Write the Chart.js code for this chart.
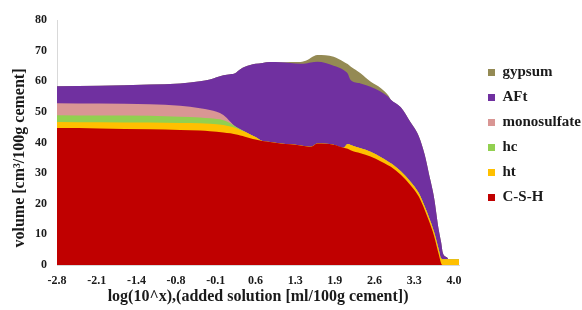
<!DOCTYPE html>
<html>
<head>
<meta charset="utf-8">
<script src="https://cdn.jsdelivr.net/npm/chart.js@4.4.1/dist/chart.umd.min.js"></script>
<style>
html, body { margin: 0; padding: 0; background: #fff; }
</style>
</head>
<body>
<canvas id="chartVolume" width="582" height="310"></canvas>
<script>
// x = log(10^x) of added solution
var xValues = [-2.80, -2.07, -1.21, -0.69, -0.35, -0.18, 0.05, 0.17, 0.25, 0.34, 0.42, 0.51, 0.60, 0.72,
               0.85, 1.03, 1.20, 1.37, 1.49, 1.55, 1.66, 1.94, 2.11, 2.18, 2.23, 2.40, 2.57, 2.75,
               2.87, 2.92, 3.09, 3.26, 3.40, 3.50, 3.57, 3.66, 3.74, 3.78, 3.81, 3.88, 3.91, 4.09];

// volumes (cm3/100g cement) of each phase
var csh = [44.7, 44.6, 44.3, 44.1, 43.9, 43.7, 43.3, 43.0, 42.7, 42.3, 41.9, 41.4, 41.0, 40.5,
           40.2, 39.7, 39.4, 39.0, 38.7, 38.6, 39.7, 39.3, 38.3, 38.0, 37.5, 36.5, 35.4, 33.8,
           32.6, 32.1, 29.5, 26.0, 22.3, 18.0, 14.5, 9.5, 3.5, 0.6, 0, 0, 0, 0];
var ht = [2.0, 2.0, 2.2, 2.3, 2.4, 2.4, 2.4, 2.2, 2.1, 1.8, 1.6, 1.2, 0.8, 0,
          0, 0, 0, 0, 0, 0, 0, 0, 0, 1.5, 1.7, 1.6, 1.6, 1.4,
          1.2, 1.1, 1.1, 1.1, 1.1, 1.1, 1.2, 1.3, 1.6, 1.6, 1.9, 1.9, 1.9, 1.9];
var hc = [2.2, 2.2, 2.2, 2.0, 1.9, 1.8, 1.6, 1.1, 0.5, 0.2, 0, 0, 0, 0,
          0, 0, 0, 0, 0, 0, 0, 0, 0, 0, 0, 0, 0, 0,
          0, 0, 0, 0, 0, 0, 0, 0, 0, 0, 0, 0, 0, 0];
var monosulfate = [3.9, 3.9, 3.8, 3.6, 3.0, 2.7, 1.7, 0.5, 0, 0, 0, 0, 0, 0,
                   0, 0, 0, 0, 0, 0, 0, 0, 0, 0, 0, 0, 0, 0,
                   0, 0, 0, 0, 0, 0, 0, 0, 0, 0, 0, 0, 0, 0];
var aft = [5.6, 5.8, 6.4, 7.3, 8.8, 10.0, 13.0, 15.5, 17.3, 19.6, 21.2, 22.7, 23.9, 25.5,
           26.1, 26.5, 26.6, 26.7, 27.2, 27.5, 26.7, 25.8, 25.4, 23.0, 21.2, 21.2, 21.2, 21.4,
           21.2, 20.8, 20.9, 19.4, 18.6, 16.9, 14.3, 11.2, 6.4, 5.3, 2.1, 0.6, 0, 0];
var gypsum = [0, 0, 0, 0, 0, 0, 0, 0, 0, 0, 0, 0, 0, 0,
              0, 0, 0.3, 0.6, 1.0, 1.6, 2.2, 2.9, 2.7, 3.1, 4.4, 3.3, 1.7, 1.1,
              0.5, 0, 0, 0, 0, 0, 0, 0, 0, 0, 0, 0, 0, 0];

var xTickValues = [-2.8, -2.12, -1.44, -0.76, -0.08, 0.6, 1.28, 1.96, 2.64, 3.32, 4.0];
var xTickLabels = ['-2.8', '-2.1', '-1.4', '-0.8', '-0.1', '0.6', '1.3', '1.9', '2.6', '3.3', '4.0'];

var serie = [
    { label: 'C-S-H', data: csh, color: '#C00000' },
    { label: 'ht', data: ht, color: '#FFC000' },
    { label: 'hc', data: hc, color: '#92D050' },
    { label: 'monosulfate', data: monosulfate, color: '#D99694' },
    { label: 'AFt', data: aft, color: '#7030A0' },
    { label: 'gypsum', data: gypsum, color: '#948A54' }
];

var police = 'Liberation Serif';

var datasets = serie.map(function(s) {
    return {
        label: s.label,
        data: s.data.map(function(v, i) { return { x: xValues[i], y: v }; }),
        backgroundColor: s.color,
        borderColor: 'rgba(0,0,0,0)',
        borderWidth: 0,
        pointRadius: 0,
        fill: 'origin',
        cubicInterpolationMode: 'monotone'
    };
});

// titre axe y + position de la legende
var extras = {
    id: 'extras',
    afterLayout: function(chart) {
        var lg = chart.legend;
        var w = lg.width;
        lg.left = 478;
        lg.right = lg.left + w;
        lg.top -= 30;
        lg.bottom -= 30;
    },
    afterDraw: function(chart) {
        var ctx = chart.ctx;
        ctx.save();
        ctx.translate(20, 158);
        ctx.rotate(-Math.PI / 2);
        ctx.font = 'bold 16px "' + police + '"';
        ctx.fillStyle = '#1a1a1a';
        ctx.textAlign = 'center';
        ctx.textBaseline = 'middle';
        ctx.fillText('volume [cm³/100g cement]', 0, 0);
        ctx.restore();
    }
};

var ctx = document.getElementById('chartVolume').getContext('2d');
var chartVolume = new Chart(ctx, {
    type: 'line',
    data: { datasets: datasets },
    options: {
        responsive: false,
        animation: false,
        devicePixelRatio: 1,
        layout: { padding: { left: 27, top: 20, right: 10, bottom: 0 } },
        scales: {
            x: {
                type: 'linear',
                min: -2.8,
                max: 4.09,
                afterBuildTicks: function(scale) {
                    scale.ticks = xTickValues.map(function(v) { return { value: v }; });
                },
                afterFit: function(scale) { scale.height = 45; },
                grid: { display: false, drawTicks: false },
                border: { display: true, color: '#d9d9d9' },
                ticks: {
                    autoSkip: false,
                    maxRotation: 0,
                    padding: 9,
                    color: '#1a1a1a',
                    font: { family: police, size: 12, weight: 'bold' },
                    callback: function(value, index) { return xTickLabels[index]; }
                },
                title: {
                    display: true,
                    text: 'log(10^x),(added solution [ml/100g cement])',
                    color: '#1a1a1a',
                    padding: { top: 0, bottom: 4 },
                    font: { family: police, size: 16, weight: 'bold' }
                }
            },
            y: {
                stacked: true,
                min: 0,
                max: 80,
                afterFit: function(scale) { scale.width = 30; },
                grid: { display: false, drawTicks: false },
                border: { display: true, color: '#d9d9d9' },
                ticks: {
                    stepSize: 10,
                    padding: 10,
                    color: '#1a1a1a',
                    font: { family: police, size: 12, weight: 'bold' }
                }
            }
        },
        plugins: {
            legend: {
                position: 'right',
                reverse: true,
                labels: {
                    boxWidth: 7,
                    boxHeight: 7,
                    padding: 10,
                    color: '#1a1a1a',
                    font: { family: police, size: 15, weight: 'bold' }
                }
            },
            tooltip: { enabled: false }
        }
    },
    plugins: [extras]
});
</script>
</body>
</html>
